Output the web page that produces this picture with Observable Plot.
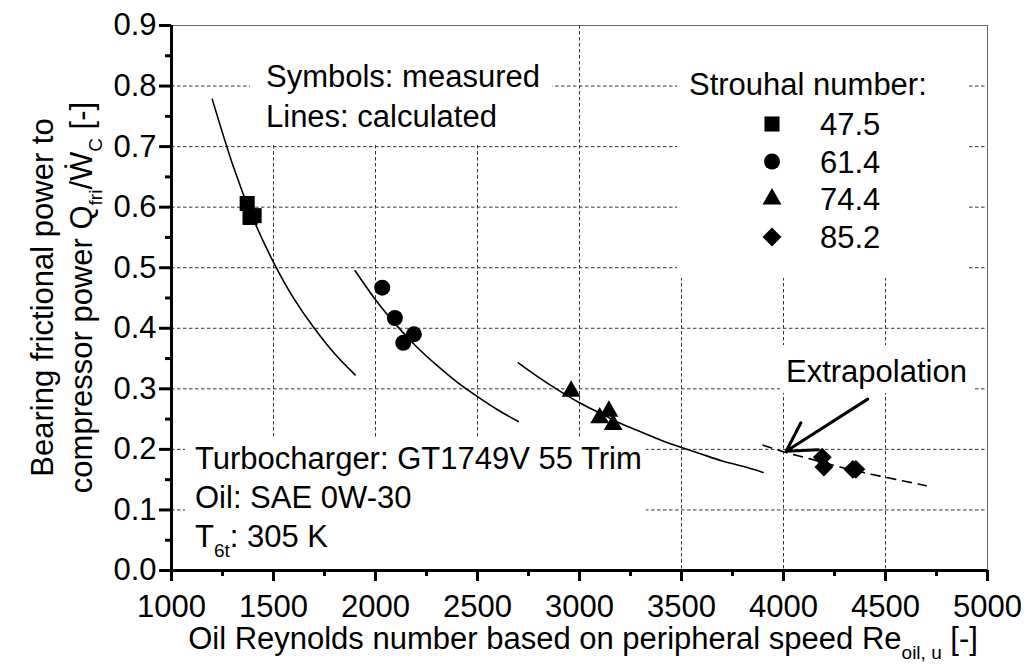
<!DOCTYPE html>
<html><head><meta charset="utf-8">
<script src="https://cdn.jsdelivr.net/npm/d3@7"></script>
<script src="https://cdn.jsdelivr.net/npm/@observablehq/plot@0.6"></script>
<style>html,body{margin:0;padding:0;background:#fff}</style>
</head><body><div id="chart"></div>
<script>
// ---- tick values ----
const xTicks = [1000,1500,2000,2500,3000,3500,4000,4500,5000];
const xMinor = [1250,1750,2250,2750,3250,3750,4250,4750];
const yTicks = [0,0.1,0.2,0.3,0.4,0.5,0.6,0.7,0.8,0.9];
const yMinor = [0.05,0.15,0.25,0.35,0.45,0.55,0.65,0.75,0.85];
const xGrid = [1500,2000,2500,3000,3500,4000,4500];
const yGrid = [0.1,0.2,0.3,0.4,0.5,0.6,0.7,0.8];

// ---- legend ----
const strouhal = ["47.5","61.4","74.4","85.2"];
const symbolNames = ["square","circle","triangle","diamond2"];
const symbolR = [8.5, 8, 7, 8.5];

// ---- measured points (Re_oil,u, Q_fri/W_C) ----
const re47 = [1371, 1385, 1405], q47 = [0.606, 0.583, 0.586];
const re61 = [2033, 2095, 2136, 2188], q61 = [0.467, 0.417, 0.376, 0.390];
const re74 = [2959, 3099, 3144, 3165], q74 = [0.296, 0.252, 0.263, 0.241];
const re85 = [4190, 4198, 4340, 4355], q85 = [0.187, 0.171, 0.167, 0.167];

// ---- calculated lines ----
const calcRe1 = [1200,1300,1400,1500,1600,1700,1800,1900];
const calcQ1  = [0.778,0.670,0.581,0.509,0.449,0.400,0.358,0.323];
const calcRe2 = [1900,2000,2100,2200,2300,2400,2500,2600,2700];
const calcQ2  = [0.495,0.447,0.406,0.370,0.339,0.311,0.287,0.265,0.246];
const calcRe3 = [2700,2800,2900,3000,3100,3200,3300,3400,3500,3600,3700,3800,3900];
const calcQ3  = [0.343,0.319,0.297,0.277,0.260,0.243,0.229,0.215,0.203,0.192,0.181,0.172,0.162];
const extrRe  = [3900,4000,4100,4200,4300,4400,4500,4600,4700];
const extrQ   = [0.207,0.196,0.187,0.178,0.169,0.161,0.154,0.147,0.140];

// ---- arrow (annotation) ----
const arrowFrom = [4413, 0.283];
const arrowTo   = [4013, 0.197];

const zip = (a, b) => a.map((v, i) => ({x: v, y: b[i]}));
const FONT = "'Liberation Sans', Arial, Helvetica, sans-serif";
const gridStyle = {stroke: "#333", strokeOpacity: 1, strokeWidth: 1, strokeDasharray: "3.5,2.5"};

const measured = [[re47,q47],[re61,q61],[re74,q74],[re85,q85]];

const fig = Plot.plot({
  width: 1026, height: 668,
  marginLeft: 171, marginRight: 39, marginTop: 25, marginBottom: 98,
  style: {fontFamily: FONT, fontSize: "31px", color: "#000", background: "#fff"},
  x: {domain: [1000, 5000]},
  y: {domain: [0, 0.9]},
  marks: [
    Plot.gridX({ticks: xGrid, ...gridStyle}),
    Plot.gridY({ticks: yGrid, ...gridStyle}),
    Plot.ruleX([5000], {stroke: "#666", strokeWidth: 1}),
    Plot.ruleY([0.9], {stroke: "#666", strokeWidth: 1}),
    Plot.line(zip(calcRe1, calcQ1), {x: "x", y: "y", curve: "natural", stroke: "#000", strokeWidth: 1.6}),
    Plot.line(zip(calcRe2, calcQ2), {x: "x", y: "y", curve: "natural", stroke: "#000", strokeWidth: 1.6}),
    Plot.line(zip(calcRe3, calcQ3), {x: "x", y: "y", curve: "natural", stroke: "#000", strokeWidth: 1.6}),
    Plot.line(zip(extrRe, extrQ), {x: "x", y: "y", curve: "natural", stroke: "#000", strokeWidth: 1.6, strokeDasharray: "9,7"}),
    ...measured.map(([xs, ys], i) =>
      Plot.dot(zip(xs, ys), {x: "x", y: "y", symbol: symbolNames[i], r: symbolR[i], fill: "#000", stroke: "none"})),
    Plot.arrow([{x1: arrowFrom[0], y1: arrowFrom[1], x2: arrowTo[0], y2: arrowTo[1]}],
      {x1: "x1", y1: "y1", x2: "x2", y2: "y2", stroke: "#000", strokeWidth: 3, headLength: 16}),
    Plot.ruleY([0], {stroke: "#000", strokeWidth: 3}),
    Plot.ruleX([1000], {stroke: "#000", strokeWidth: 3}),
    Plot.axisX({ticks: xTicks, tickSize: 11, tickPadding: 13, strokeWidth: 3, fontSize: 31, label: null, tickFormat: d => String(d)}),
    Plot.axisX({ticks: xMinor, tickSize: 6, strokeWidth: 3, label: null, tickFormat: () => ""}),
    Plot.axisY({ticks: yTicks, tickSize: 12, tickPadding: 3, strokeWidth: 3, fontSize: 31, label: null, tickFormat: d3.format(".1f")}),
    Plot.axisY({ticks: yMinor, tickSize: 6, strokeWidth: 3, label: null, tickFormat: () => ""})
  ]
});
document.getElementById("chart").append(fig);

const svg = d3.select(fig);
svg.selectAll('[aria-label$="tick"]').attr("stroke-width", 3);

// annotation layer placed right after the grid so it masks grid lines only
const annNode = document.createElementNS("http://www.w3.org/2000/svg", "g");
const yGridNode = fig.querySelector('[aria-label="y-grid"]');
yGridNode.parentNode.insertBefore(annNode, yGridNode.nextSibling);
const ann = d3.select(annNode).attr("font-family", FONT).attr("fill", "#000").attr("text-anchor", "start");

function addLine(g, x, y, parts, opts = {}) {
  const t = g.append("text").attr("x", x).attr("y", y).attr("font-size", 31)
    .attr("text-anchor", opts.anchor || "start");
  if (opts.transform) t.attr("transform", opts.transform);
  let shifted = 0;
  parts.forEach(([txt, sub]) => {
    const s = t.append("tspan").text(txt);
    const want = sub ? 10 : 0;
    if (want !== shifted) { s.attr("dy", want - shifted); shifted = want; }
    s.attr("font-size", sub ? 19 : 31);
  });
  return t;
}
function boxed(g, pad) {
  const b = g.node().getBBox();
  g.insert("rect", ":first-child")
    .attr("x", b.x - pad[0]).attr("y", b.y - pad[2])
    .attr("width", b.width + pad[0] + pad[1]).attr("height", b.height + pad[2] + pad[3])
    .attr("fill", "#fff");
}

// Symbols / Lines note
const g1 = ann.append("g");
addLine(g1, 266, 87, [["Symbols: measured"]]);
addLine(g1, 266, 127, [["Lines: calculated"]]);
boxed(g1, [16, 12, 40, 11]);

// Legend
const g2 = ann.append("g");
addLine(g2, 689, 95, [["Strouhal number:"]]);
const rowY = [124, 161.5, 199, 237];
const d3sym = {square: d3.symbolSquare, circle: d3.symbolCircle, triangle: d3.symbolTriangle, diamond2: d3.symbolDiamond2};
strouhal.forEach((lab, i) => {
  g2.append("path")
    .attr("transform", `translate(772,${rowY[i]})`)
    .attr("d", d3.symbol(d3sym[symbolNames[i]], Math.PI * symbolR[i] * symbolR[i])())
    .attr("fill", "#000");
  addLine(g2, 820, rowY[i] + 11, [[lab]]);
});
boxed(g2, [12, 40, 48, 23]);

// Extrapolation label
const g3 = ann.append("g");
addLine(g3, 786, 382, [["Extrapolation"]]);
boxed(g3, [6, 6, 9, 4]);

// Turbocharger block
const g4 = ann.append("g");
addLine(g4, 195, 469, [["Turbocharger: GT1749V 55 Trim"]]);
addLine(g4, 195, 508, [["Oil: SAE 0W-30"]]);
addLine(g4, 195, 547, [["T"], ["6t", true], [": 305 K"]]);
boxed(g4, [10, 4, 4, 15]);

// Axis titles (centred on the plot frame)
const titles = svg.append("g").attr("font-family", FONT).attr("fill", "#000");
addLine(titles, 583, 649, [["Oil Reynolds number based on peripheral speed Re"], ["oil, u", true], [" [-]"]], {anchor: "middle"});
addLine(titles, -297.5, 53, [["Bearing frictional power to"]], {anchor: "middle", transform: "rotate(-90)"});
addLine(titles, -297.5, 92, [["compressor power Q"], ["fri", true], ["/W\u0307"], ["C", true], [" [-]"]], {anchor: "middle", transform: "rotate(-90)"});
</script>
</body></html>
